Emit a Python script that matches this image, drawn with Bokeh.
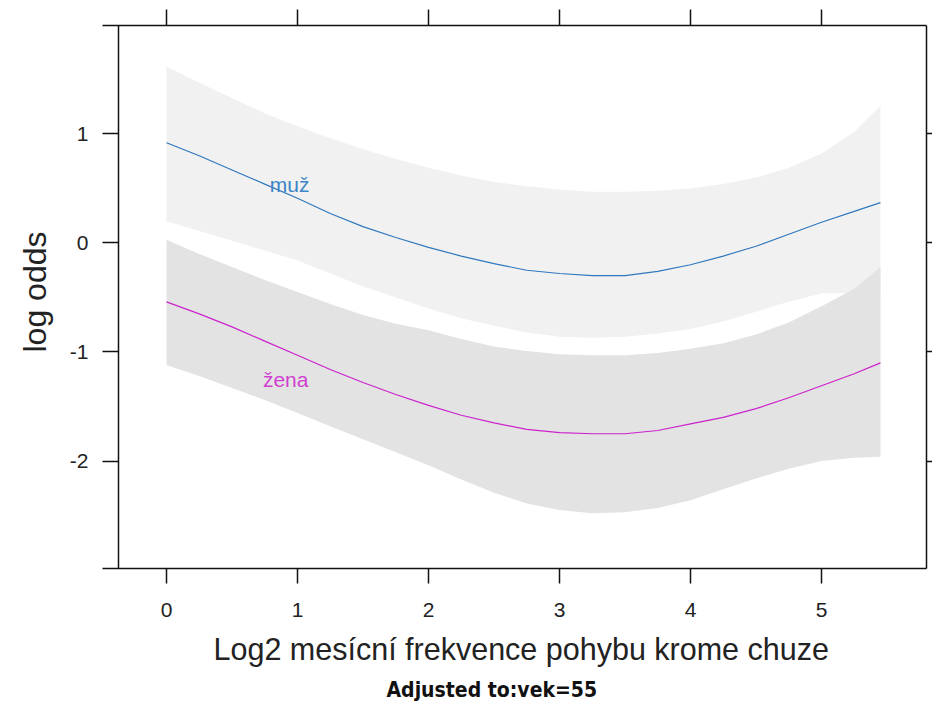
from bokeh.plotting import figure
from bokeh.models import Range1d, LinearAxis, FixedTicker, Span, Title
from bokeh.embed import file_html
from bokeh.resources import INLINE
from bokeh.core.properties import value

# Predicted log odds by log2 monthly frequency of activity (other than walking), by sex
x_vals = [0, 0.25, 0.5, 0.75, 1, 1.25, 1.5, 1.75, 2, 2.25, 2.5, 2.75,
          3, 3.25, 3.5, 3.75, 4, 4.25, 4.5, 4.75, 5, 5.25, 5.45]

muz_fit = [0.92, 0.80, 0.67, 0.54, 0.41, 0.27, 0.15, 0.05, -0.04, -0.12, -0.19, -0.25,
           -0.28, -0.30, -0.30, -0.26, -0.20, -0.12, -0.03, 0.08, 0.19, 0.29, 0.37]
muz_upper = [1.62, 1.47, 1.33, 1.19, 1.07, 0.96, 0.86, 0.77, 0.69, 0.62, 0.56, 0.52,
             0.49, 0.47, 0.47, 0.48, 0.50, 0.54, 0.60, 0.69, 0.82, 1.02, 1.26]
muz_lower = [0.20, 0.11, 0.02, -0.07, -0.16, -0.28, -0.40, -0.50, -0.60, -0.69, -0.76, -0.82,
             -0.86, -0.87, -0.86, -0.83, -0.79, -0.72, -0.63, -0.54, -0.46, -0.46, -0.50]

zena_fit = [-0.54, -0.65, -0.77, -0.90, -1.03, -1.16, -1.28, -1.39, -1.49, -1.58, -1.65, -1.71,
            -1.74, -1.75, -1.75, -1.72, -1.66, -1.60, -1.52, -1.42, -1.31, -1.20, -1.10]
zena_upper = [0.03, -0.10, -0.22, -0.34, -0.45, -0.56, -0.66, -0.74, -0.80, -0.88, -0.95, -0.99,
              -1.02, -1.03, -1.03, -1.01, -0.97, -0.92, -0.84, -0.73, -0.58, -0.42, -0.22]
zena_lower = [-1.12, -1.22, -1.33, -1.44, -1.56, -1.68, -1.80, -1.92, -2.04, -2.17, -2.29, -2.39,
              -2.45, -2.48, -2.47, -2.43, -2.36, -2.26, -2.16, -2.07, -2.00, -1.97, -1.96]

x_ticks = [0, 1, 2, 3, 4, 5]
y_ticks = [-2, -1, 0, 1]
y_tick_labels = {-2: "-2", -1: "-1", 0: "0", 1: "1"}

group_names = ["muž", "žena"]
label_x = [0.94, 0.91]
label_y = [0.54, -1.25]

FONT = "Liberation Sans, Arial, sans-serif"
INK = "#111111"
TXT = "#222222"

p = figure(
    width=932, height=702,
    x_range=Range1d(-0.4885, 5.8015),
    y_range=Range1d(-2.986, 1.995),
    output_backend="svg", toolbar_location=None,
    min_border_left=102, min_border_right=6,
    min_border_top=25, min_border_bottom=134,
)
p.outline_line_color = None
p.grid.grid_line_color = None
p.background_fill_color = "white"
p.border_fill_color = "white"

# confidence bands
p.varea(x=x_vals, y1=muz_lower, y2=muz_upper, fill_color="#F1F1F1")
p.varea(x=x_vals, y1=zena_lower, y2=zena_upper, fill_color="#E3E3E3")

# fitted curves
p.line(x_vals, muz_fit, line_color="#2F78BE", line_width=1.2)
p.line(x_vals, zena_fit, line_color="#CC22CC", line_width=1.2)

p.text(x=label_x, y=label_y, text=group_names,
       text_color=["#3D85C6", "#D040D0"],
       text_font=value(FONT), text_font_size="21px",
       text_align="center", text_baseline="middle")

# left border of the panel
p.add_layout(Span(location=-0.3664, dimension="height", line_color=INK, line_width=1.5))


def style_axis(ax, ticks, tick_in, tick_out, show_labels):
    ax.ticker = FixedTicker(ticks=ticks)
    ax.minor_tick_line_color = None
    ax.major_tick_in = tick_in
    ax.major_tick_out = tick_out
    ax.major_tick_line_color = INK
    ax.major_tick_line_width = 1.5
    ax.axis_line_color = INK
    ax.axis_line_width = 1.5
    ax.major_label_text_font = FONT
    ax.major_label_text_color = TXT
    if show_labels:
        ax.major_label_text_font_size = "21px"
    else:
        ax.major_label_text_font_size = "1px"
        ax.major_label_text_color = None
        ax.major_label_standoff = 0


xa = p.xaxis[0]
style_axis(xa, x_ticks, 0, 15, True)
xa.major_label_standoff = 19

ya = p.yaxis[0]
style_axis(ya, y_ticks, 16, 0, True)
ya.axis_line_color = None
ya.major_label_standoff = 14
ya.major_label_overrides = y_tick_labels

top = LinearAxis()
style_axis(top, x_ticks, 0, 16, False)
p.add_layout(top, "above")

right = LinearAxis()
style_axis(right, y_ticks, 0, 6, False)
p.add_layout(right, "right")

p.add_layout(Title(text="log odds", align="left", offset=216,
                   text_font=FONT, text_font_size="32px", text_font_style="normal",
                   text_color=TXT, standoff=27), "left")

p.add_layout(Title(text="Log2 mesícní frekvence pohybu krome chuze", align="left",
                   offset=111, text_font=FONT, text_font_size="30.5px",
                   text_font_style="normal", text_color=TXT, standoff=20), "below")
p.add_layout(Title(text="Adjusted to:vek=55", align="left", offset=284,
                   text_font="Liberation Sans Narrow, DejaVu Sans Condensed, Liberation Sans",
                   text_font_size="21px", text_font_style="bold",
                   text_color="#111111", standoff=0), "below")

open("out.html", "w").write(file_html(p, INLINE))
